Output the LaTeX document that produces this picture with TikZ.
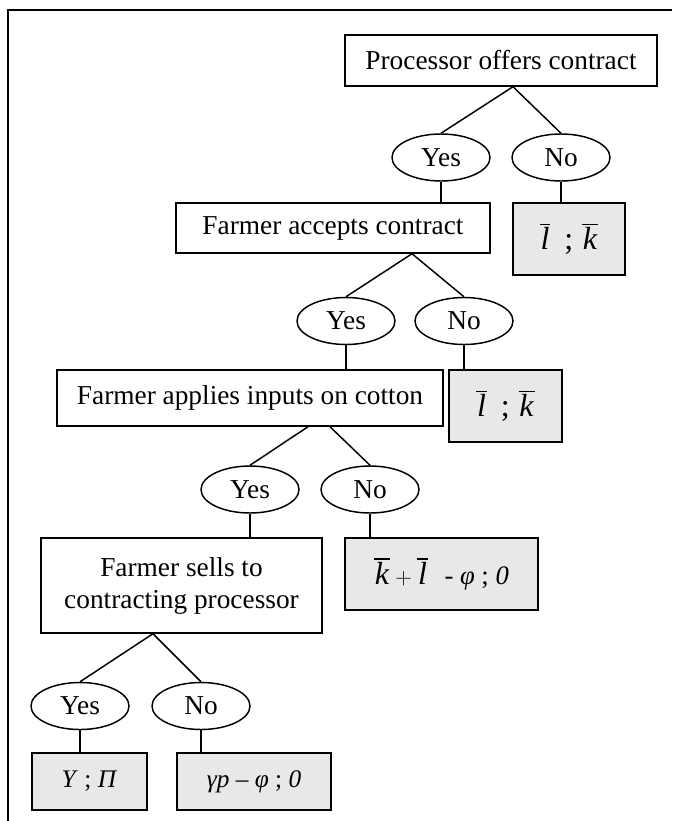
\documentclass[tikz,border=0pt]{standalone}
\usepackage{fontspec}
\setmainfont{Liberation Serif}
\usetikzlibrary{shapes.geometric}
\newcommand{\barit}[1]{\leavevmode\vbox{\hrule height 1pt\kern1.6pt\hbox{\kern0.5pt\textit{#1}\kern0.5pt}}}
\begin{document}
\begin{tikzpicture}[x=0.75pt, y=-0.75pt, line width=1.1pt,
		stage/.style={draw, rectangle, align=center, inner sep=2pt, font=\fontsize{20.5}{24}\selectfont},
		choice/.style={draw, ellipse, minimum width=73.5pt, minimum height=35.25pt, inner sep=0pt, font=\fontsize{20.5}{24}\selectfont},
		payoff/.style={draw, rectangle, fill=black!9, minimum height=54pt, inner sep=2pt, font=\fontsize{24}{28}\selectfont}]
		\useasboundingbox (0,0) rectangle (672,821);
		% frame
		\draw[line width=1.5pt] (672,10) -- (8,10) -- (8,821);

		% decision stages
		\node[stage, minimum width=234pt, minimum height=38.25pt] (b1) at (501,60.5) {Processor offers contract};
		\node[stage, minimum width=235.5pt, minimum height=37.5pt] (b2) at (333,228) {Farmer accepts contract};
		\node[stage, minimum width=289.5pt, minimum height=42pt] (b3) at (250,398) {Farmer applies inputs on cotton};
		\node[stage, minimum width=210.75pt, minimum height=71.25pt] (b4) at (181.5,585.5) {Farmer sells to\\contracting processor};

		% answers
		\node[choice] (y1) at (441,157.5) {Yes};
		\node[choice] (n1) at (561,157.5) {No};
		\node[choice] (y2) at (346,321) {Yes};
		\node[choice] (n2) at (464,321) {No};
		\node[choice] (y3) at (250,489.5) {Yes};
		\node[choice] (n3) at (370,489.5) {No};
		\node[choice] (y4) at (80,706) {Yes};
		\node[choice] (n4) at (201,706) {No};

		% payoffs
		\node[payoff, minimum width=84pt] (p1) at (569,239) {\barit{l}\;\,;\;\barit{k}};
		\node[payoff, minimum width=84.75pt] (p2) at (505.5,406) {\barit{l}\;\,;\;\barit{k}};
		\node[payoff, minimum width=144.75pt] (p3) at (441.5,574)
			{\barit{k}\,{\fontsize{19}{22}\selectfont$+$}\,\barit{l}\; {\fontsize{20}{22}\selectfont- \textit{φ} ; \textit{0}}};
		\node[payoff, minimum width=86.25pt, minimum height=42.75pt, font=\fontsize{19}{22}\selectfont] (p4) at (89.5,781.5) {\textit{Y} ; \textit{Π}};
		\node[payoff, minimum width=115.5pt, minimum height=42.75pt, font=\fontsize{19}{22}\selectfont] (p5) at (254,781.5) {\textit{γp} – \textit{φ} ; \textit{0}};

		% branches
		\draw (y1.north) -- ([xshift=9pt]b1.south) -- (n1.north);
		\draw (y2.north) -- ([xshift=59.25pt]b2.south) -- (n2.north);
		\draw (y3.north) -- ([xshift=43.5pt]b3.south);
		\draw ([xshift=60pt]b3.south) -- (n3.north);
		\draw (y4.north) -- ([xshift=-21.4pt]b4.south) -- (n4.north);

		\draw (y1.south) -- (y1.south |- b2.north);
		\draw (n1.south) -- (n1.south |- p1.north);
		\draw (y2.south) -- (y2.south |- b3.north);
		\draw (n2.south) -- (n2.south |- p2.north);
		\draw (y3.south) -- (y3.south |- b4.north);
		\draw (n3.south) -- (n3.south |- p3.north);
		\draw (y4.south) -- (y4.south |- p4.north);
		\draw (n4.south) -- (n4.south |- p5.north);
	\end{tikzpicture}
\end{document}
